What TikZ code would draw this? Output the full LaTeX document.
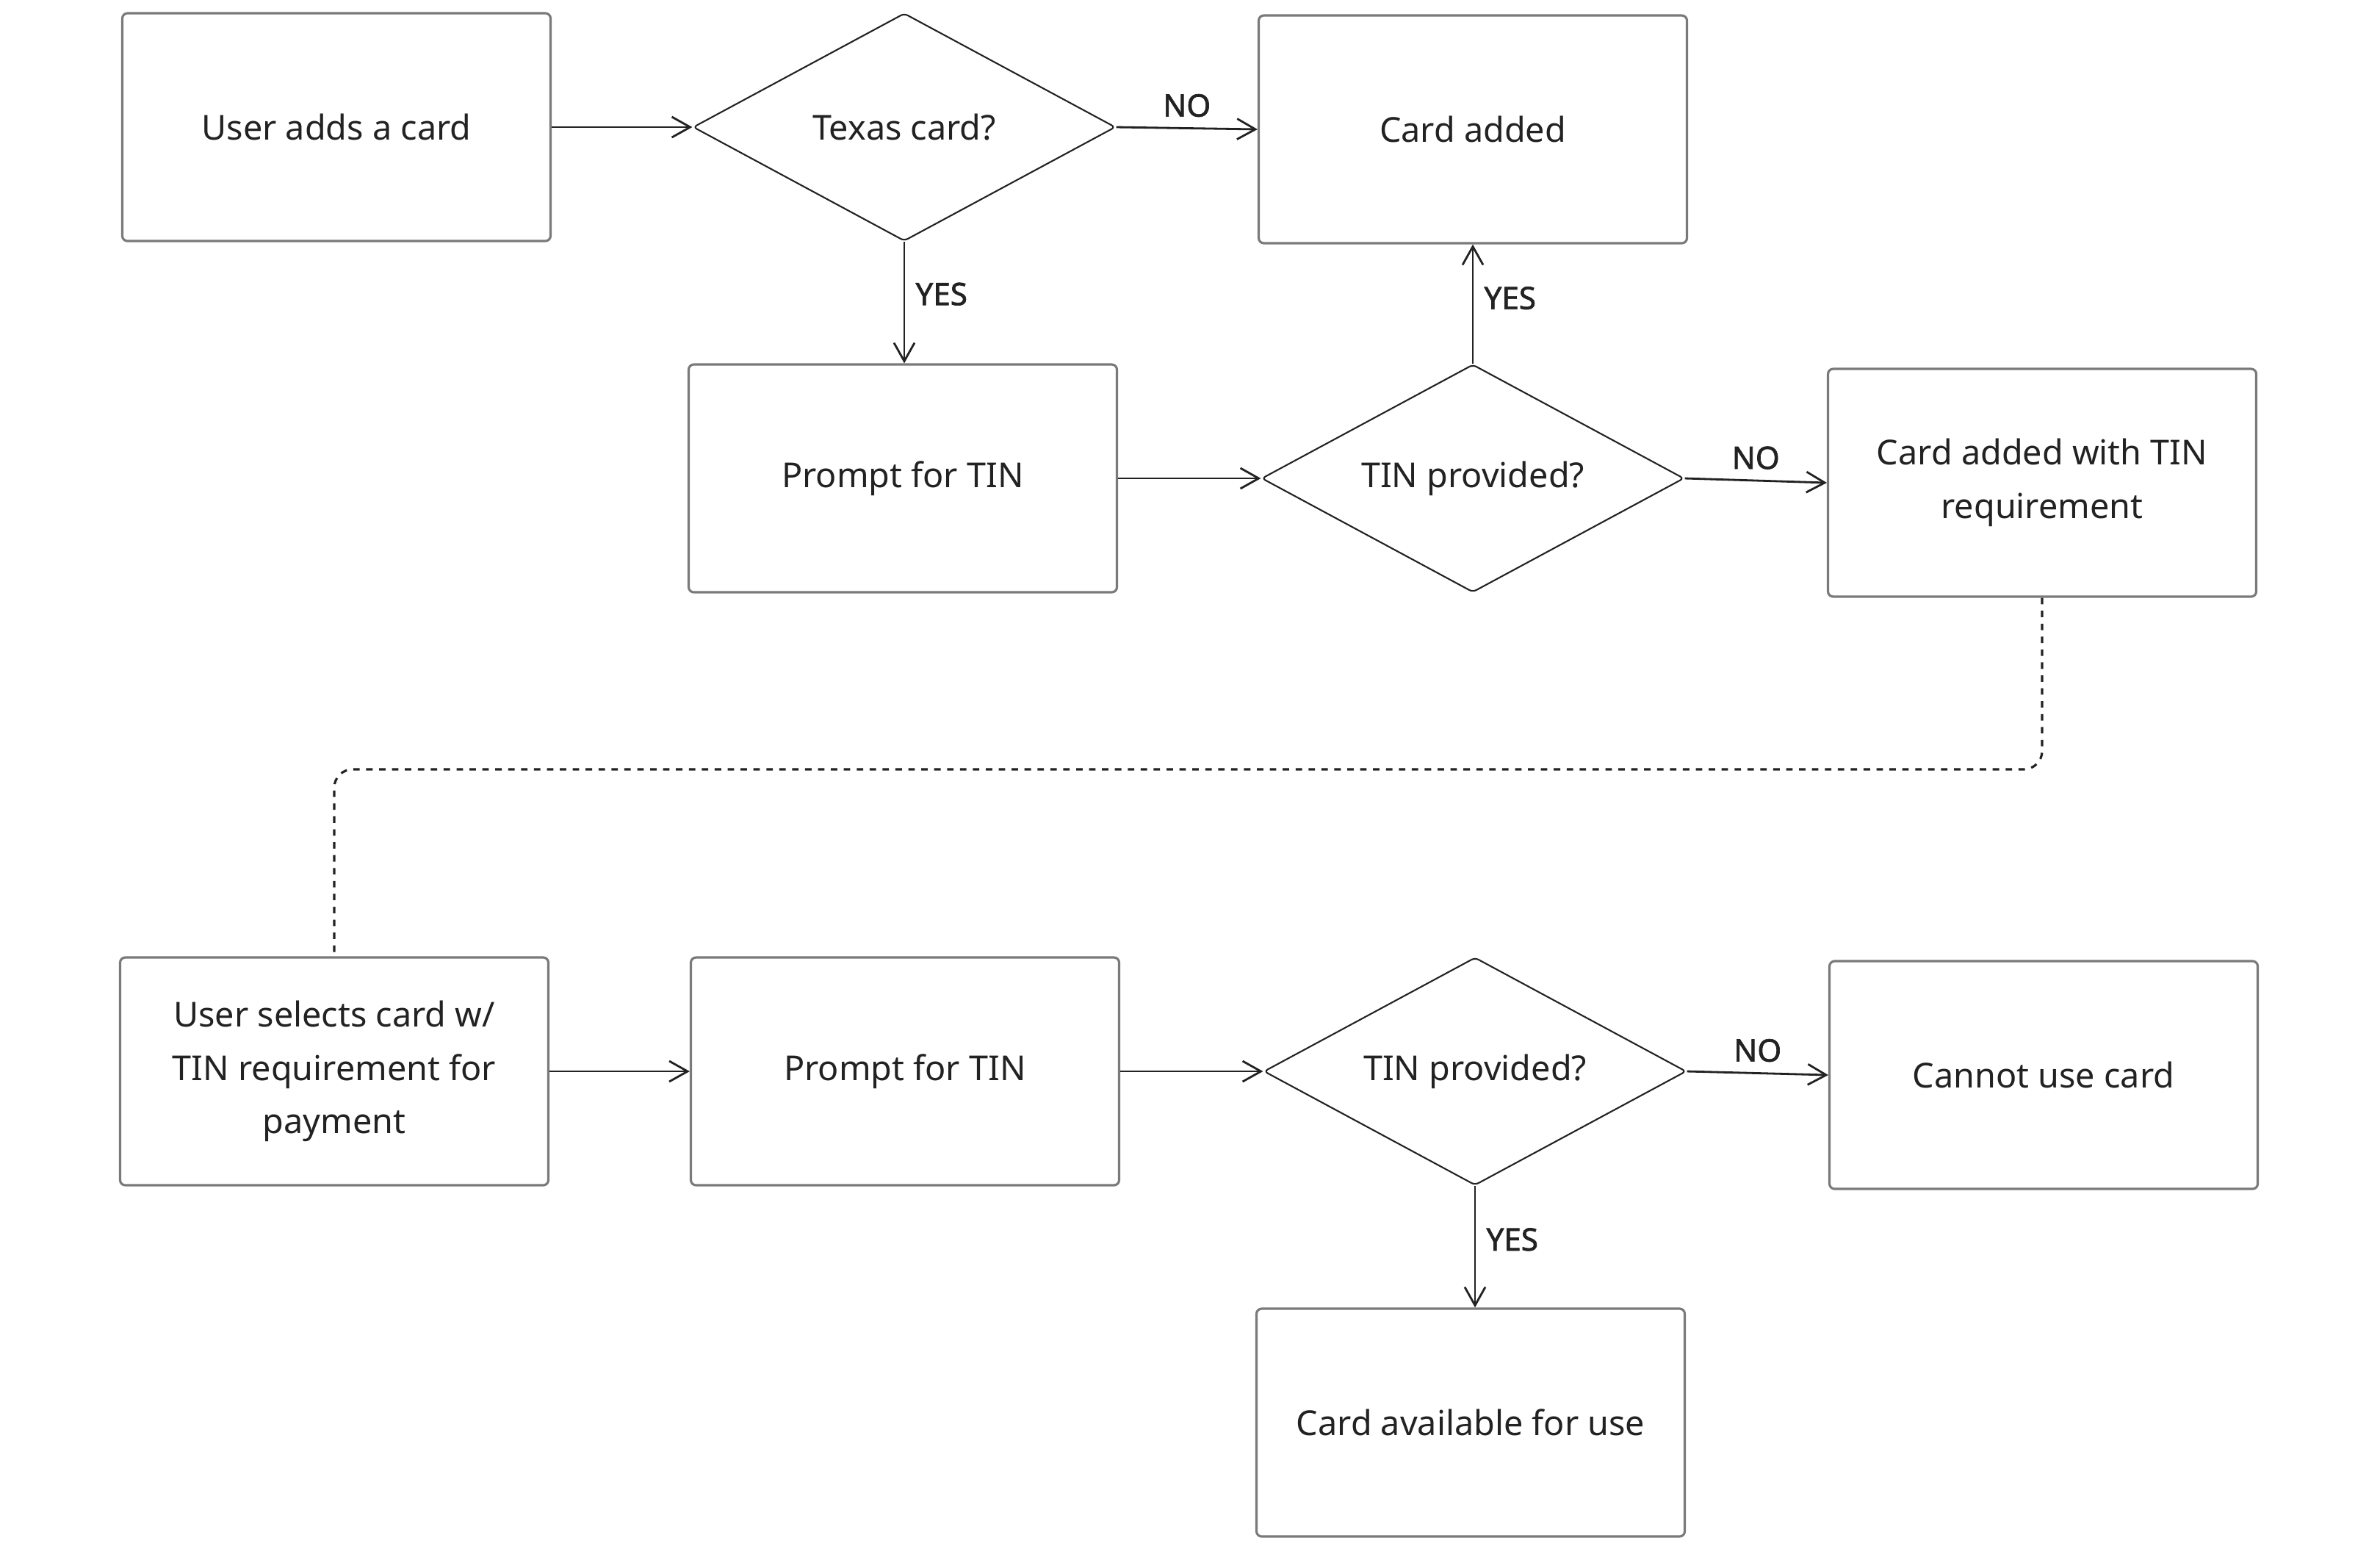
\documentclass[tikz,border=0pt]{standalone}
\usepackage{fontspec}
\setmainfont{Noto Sans}
\newfontfamily\answerfont{Noto Sans}[FakeBold=1.6]
\usetikzlibrary{shapes.geometric,arrows.meta}

\definecolor{boxgray}{HTML}{7A7A7A}
\definecolor{ink}{HTML}{222222}

\begin{document}
\begin{tikzpicture}
\tikzstyle{every node}+=[inner sep=0pt, text=ink, font=\fontsize{13.3}{20.7}\selectfont]
\tikzstyle{stepbox}=[draw=boxgray, line width=0.9pt, rounded corners=2pt, minimum width=5.83cm, minimum height=3.10cm, align=center]
\tikzstyle{choice}=[draw=ink, line width=0.6pt, diamond, aspect=1.86, rounded corners=1.5pt, minimum width=5.75cm, minimum height=3.10cm, align=center]
\tikzstyle{flow}=[draw=ink, line width=0.8pt, -{Straight Barb[length=0.25cm,width=0.28cm]}]
\tikzstyle{link}=[draw=ink, line width=0.9pt, dash pattern=on 2.5pt off 2.5pt, rounded corners=0.25cm]
\tikzstyle{answer}=[font=\answerfont\fontsize{12}{14}\selectfont, inner sep=4pt]
\useasboundingbox (0,0) rectangle (32.4,-21.03);
% adding a card
\node [stepbox] (add) at (4.58,-1.73) {User adds a card};
\node [choice] (texas) at (12.31,-1.73) {Texas card?};
\node [stepbox] (added) at (20.05,-1.76) {Card added};
\node [stepbox] (prompt1) at (12.29,-6.51) {Prompt for TIN};
\node [choice] (tin1) at (20.05,-6.51) {TIN provided?};
\node [stepbox] (addedtin) at (27.80,-6.57) {Card added with TIN\\requirement};
% paying with the card
\node [stepbox] (select) at (4.55,-14.58) {User selects card w/\\TIN requirement for\\payment};
\node [stepbox] (prompt2) at (12.32,-14.58) {Prompt for TIN};
\node [choice] (tin2) at (20.08,-14.58) {TIN provided?};
\node [stepbox] (cannot) at (27.82,-14.63) {Cannot use card};
\node [stepbox] (avail) at (20.02,-19.36) {Card available for use};
\coordinate (bend) at (0,-10.47);
\draw [flow] (add.east) -- (texas.west);
\draw [flow] (texas.east) -- (added.west) node [answer, midway, above] {NO};
\draw [flow] (texas.south) -- (texas.south |- prompt1.north) node [answer, pos=0.43, right] {YES};
\draw [flow] (prompt1.east) -- (tin1.west);
\draw [flow] (tin1.north) -- (added.south) node [answer, pos=0.55, right] {YES};
\draw [flow] (tin1.east) -- (addedtin.west) node [answer, midway, above] {NO};
\draw [link] (addedtin.south) |- (select.north |- bend) -- (select.north);
\draw [flow] (select.east) -- (prompt2.west);
\draw [flow] (prompt2.east) -- (tin2.west);
\draw [flow] (tin2.east) -- (cannot.west) node [answer, midway, above] {NO};
\draw [flow] (tin2.south) -- (tin2.south |- avail.north) node [answer, pos=0.44, right] {YES};
\end{tikzpicture}
\end{document}
